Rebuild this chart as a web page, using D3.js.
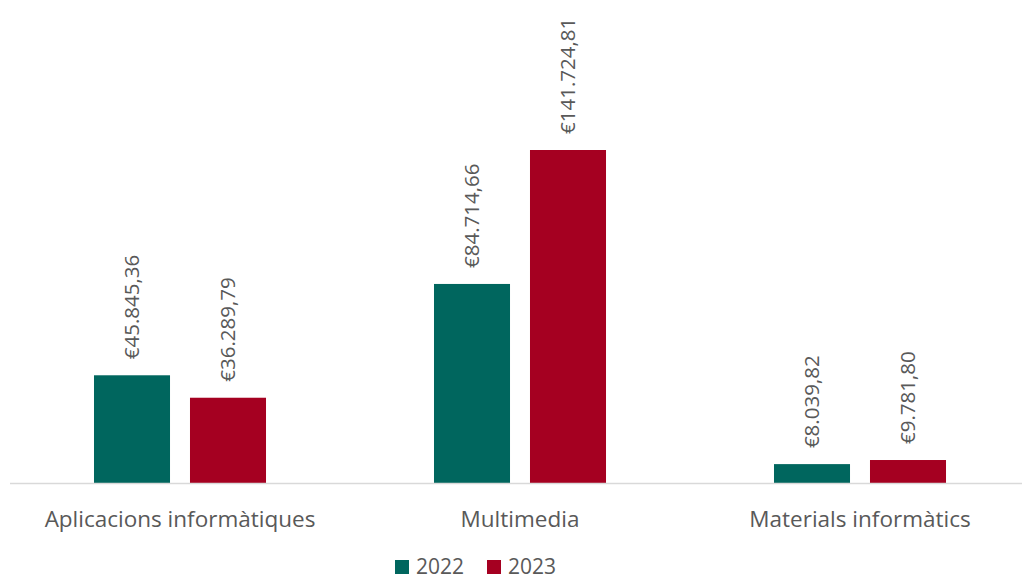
<!DOCTYPE html>
<html lang="ca">
<head>
    <meta charset="UTF-8">
    <title>Despesa</title>
    <script src="https://d3js.org/d3.v7.min.js"></script>
    <style>
        body { margin: 0; background: #fff; }
        text { font-family: "Open Sans", sans-serif; fill: #595959; }
    </style>
</head>
<body>
    <svg width="1022" height="580"></svg>
    <script>
        var categories = ["Aplicacions informàtiques", "Multimedia", "Materials informàtics"];
        var years = ["2022", "2023"];
        var values2022 = [45845.36, 84714.66, 8039.82];
        var values2023 = [36289.79, 141724.81, 9781.80];
        var colors = ["#00665E", "#A50021"];

        var svg = d3.select("svg");
        var baseline = 483;

        var x0 = d3.scaleBand().domain(categories).range([10, 1030]);
        var x1 = d3.scaleBand().domain(years).range([0, x0.bandwidth()])
            .paddingInner(0.208).paddingOuter(0.875);
        var y = d3.scaleLinear().domain([0, 141724.81]).range([baseline, 150]);

        var fmt = d3.formatLocale({ decimal: ",", thousands: ".", grouping: [3], currency: ["€", ""] }).format("$,.2f");

        var data = [];
        categories.forEach(function (c, i) {
            data.push({ cat: c, year: "2022", value: values2022[i] });
            data.push({ cat: c, year: "2023", value: values2023[i] });
        });

        // bars
        svg.selectAll(".bar")
            .data(data)
            .enter().append("rect")
            .attr("x", function (d) { return x0(d.cat) + x1(d.year); })
            .attr("y", function (d) { return y(d.value); })
            .attr("width", x1.bandwidth())
            .attr("height", function (d) { return baseline - y(d.value); })
            .attr("fill", function (d) { return colors[years.indexOf(d.year)]; });

        // x axis line
        svg.append("line")
            .attr("x1", 10).attr("x2", 1022)
            .attr("y1", baseline + 0.5).attr("y2", baseline + 0.5)
            .attr("stroke", "#d9d9d9").attr("stroke-width", 1.5);

        // value labels
        svg.selectAll(".lbl")
            .data(data)
            .enter().append("text")
            .attr("transform", function (d) {
                var cx = x0(d.cat) + x1(d.year) + x1.bandwidth() / 2;
                return "translate(" + cx + "," + (y(d.value) - 16) + ") rotate(-90)";
            })
            .attr("dy", "0.35em")
            .style("font-size", "20.5px")
            .text(function (d) { return fmt(d.value); });

        // category labels
        svg.selectAll(".cat")
            .data(categories)
            .enter().append("text")
            .attr("x", function (d) { return x0(d) + x0.bandwidth() / 2; })
            .attr("y", 519)
            .attr("dy", "0.35em")
            .attr("text-anchor", "middle")
            .style("font-size", "22.5px")
            .text(function (d) { return d; });

        // legend
        var legendX = [395, 487];
        years.forEach(function (yr, i) {
            svg.append("rect")
                .attr("x", legendX[i]).attr("y", 560)
                .attr("width", 14).attr("height", 14)
                .attr("fill", colors[i]);
            svg.append("text")
                .attr("x", legendX[i] + 21).attr("y", 567)
                .attr("dy", "0.35em")
                .style("font-size", "21px")
                .text(yr);
        });
    </script>
</body>
</html>
